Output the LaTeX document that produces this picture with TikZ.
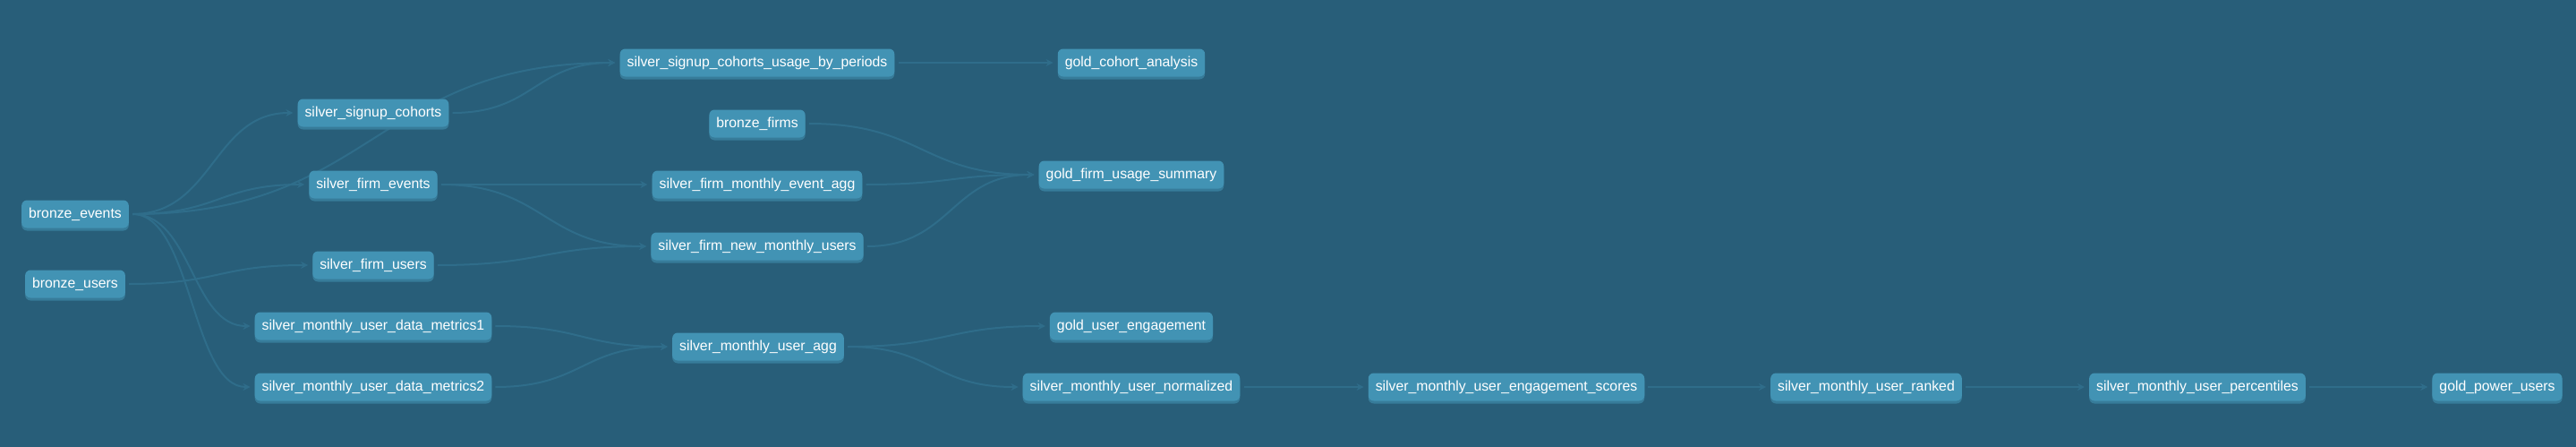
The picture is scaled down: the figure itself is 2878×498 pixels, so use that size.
\documentclass[tikz,border=0pt]{standalone}
\usepackage{fontspec}
\setmainfont{Liberation Sans}
\usetikzlibrary{arrows.meta, calc, shadows}
\definecolor{dagbg}{RGB}{40, 94, 121}
\definecolor{modelfill}{RGB}{66, 147, 180}
\definecolor{modelshadow}{RGB}{55, 124, 154}
\definecolor{edgeblue}{RGB}{47, 109, 138}
\pgfdeclarelayer{background}
\pgfsetlayers{background,main}

\begin{document}
\begin{tikzpicture}[x=1pt, y=-1pt,
  model/.style={fill=modelfill, rounded corners=6pt, text=white, minimum height=31pt,
    inner xsep=8pt, inner ysep=0pt, font=\fontsize{15.8}{19}\selectfont,
    drop shadow={shadow xshift=0pt, shadow yshift=-3pt, fill=modelshadow, opacity=1}},
  flow/.style={draw=edgeblue, line width=2pt, -{Stealth[length=8pt, width=8pt]},
    shorten <=4pt, shorten >=5pt}]
  \useasboundingbox (0,0) rectangle (2878,498);

  % sources
  \node[model] (bevents) at (84,239) {bronze\_events};
  \node[model] (busers) at (84,317) {bronze\_users};
  \node[model] (bfirms) at (846,138) {bronze\_firms};

  % silver layer
  \node[model] (scohorts) at (417,126) {silver\_signup\_cohorts};
  \node[model] (fevents) at (417,206) {silver\_firm\_events};
  \node[model] (fusers) at (417,296) {silver\_firm\_users};
  \node[model] (metrics1) at (417,364) {silver\_monthly\_user\_data\_metrics1};
  \node[model] (metrics2) at (417,432) {silver\_monthly\_user\_data\_metrics2};
  \node[model] (usageper) at (846,70) {silver\_signup\_cohorts\_usage\_by\_periods};
  \node[model] (fmonthly) at (846,206) {silver\_firm\_monthly\_event\_agg};
  \node[model] (fnewusers) at (846,275) {silver\_firm\_new\_monthly\_users};
  \node[model] (useragg) at (847,387) {silver\_monthly\_user\_agg};
  \node[model] (normalized) at (1264,432) {silver\_monthly\_user\_normalized};
  \node[model] (scores) at (1683,432) {silver\_monthly\_user\_engagement\_scores};
  \node[model] (ranked) at (2085,432) {silver\_monthly\_user\_ranked};
  \node[model] (percentiles) at (2455,432) {silver\_monthly\_user\_percentiles};

  % gold layer
  \node[model] (gcohort) at (1264,70) {gold\_cohort\_analysis};
  \node[model] (gfirm) at (1264,195) {gold\_firm\_usage\_summary};
  \node[model] (gengage) at (1264,364) {gold\_user\_engagement};
  \node[model] (gpower) at (2790,432) {gold\_power\_users};

  \begin{pgfonlayer}{background}
    \fill[dagbg] (-2,-2) rectangle (2880,500);
    \foreach \src/\dst in {bevents/scohorts, bevents/usageper, bevents/fevents,
        bevents/metrics1, bevents/metrics2, busers/fusers, scohorts/usageper,
        fevents/fmonthly, fevents/fnewusers, fusers/fnewusers, usageper/gcohort,
        bfirms/gfirm, fmonthly/gfirm, fnewusers/gfirm, metrics1/useragg,
        metrics2/useragg, useragg/gengage, useragg/normalized, normalized/scores,
        scores/ranked, ranked/percentiles, percentiles/gpower}
      \draw[flow] let \p1=(\src.east), \p2=(\dst.west), \n1={(\x2-\x1)/2} in
        (\p1) .. controls +(\n1,0) and +(-\n1,0) .. (\p2);
  \end{pgfonlayer}
\end{tikzpicture}
\end{document}
